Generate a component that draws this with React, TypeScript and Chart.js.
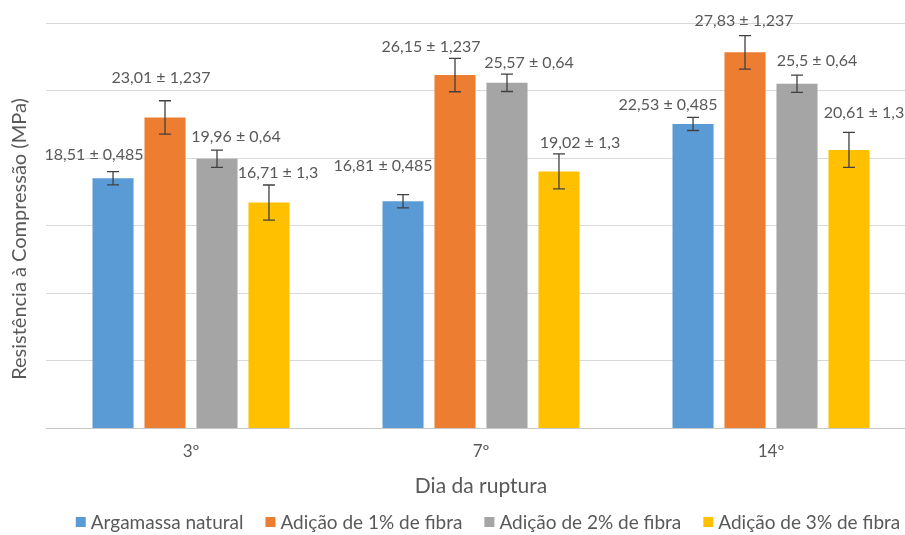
import React, { useEffect, useRef } from 'react';
import { Chart, registerables } from 'chart.js';

Chart.register(...registerables);

const categories = ['3º', '7º', '14º'];
const seriesNames = ['Argamassa natural', 'Adição de 1% de fibra', 'Adição de 2% de fibra', 'Adição de 3% de fibra'];
const argamassaNatural = [18.51, 16.81, 22.53];
const fibra1 = [23.01, 26.15, 27.83];
const fibra2 = [19.96, 25.57, 25.5];
const fibra3 = [16.71, 19.02, 20.61];
const errNatural = [0.485, 0.485, 0.485];
const errFibra1 = [1.237, 1.237, 1.237];
const errFibra2 = [0.64, 0.64, 0.64];
const errFibra3 = [1.3, 1.3, 1.3];
const yMin = 0;
const yMax = 30;
const yStep = 5;

const seriesValues = [argamassaNatural, fibra1, fibra2, fibra3];
const seriesErrors = [errNatural, errFibra1, errFibra2, errFibra3];
const seriesColors = ['#5B9BD5', '#ED7D31', '#A5A5A5', '#FFC000'];

// label offsets (px) relative to bar centre / error-bar top (layout only)
const labelOffsets = [
  [[-19, -17], [-20, -29], [-25, -13]],
  [[-4, -23], [-24, -11], [-1, -15]],
  [[19, -13], [22, -11], [20, -14]],
  [[9, -12], [21, -11], [15, -19]],
];

const FONT = 'Lato, "Noto Sans", sans-serif';
const TEXT = '#595959';

const fmt = (v: number) => String(v).replace('.', ',');

const errorBarPlugin = {
  id: 'errorBarsAndLabels',
  afterDatasetsDraw(chart: any) {
    const ctx = chart.ctx;
    const yScale = chart.scales.y;
    chart.data.datasets.forEach((ds: any, di: number) => {
      const meta = chart.getDatasetMeta(di);
      meta.data.forEach((bar: any, i: number) => {
        const v = ds.data[i];
        const e = seriesErrors[di][i];
        const x = bar.x;
        const yTop = yScale.getPixelForValue(v + e);
        const yBot = yScale.getPixelForValue(v - e);
        ctx.save();
        ctx.strokeStyle = '#404040';
        ctx.lineWidth = 1.3;
        ctx.beginPath();
        ctx.moveTo(x, yTop);
        ctx.lineTo(x, yBot);
        ctx.moveTo(x - 6, yTop);
        ctx.lineTo(x + 6, yTop);
        ctx.moveTo(x - 6, yBot);
        ctx.lineTo(x + 6, yBot);
        ctx.stroke();
        const [dx, dy] = labelOffsets[di][i];
        ctx.font = `16px ${FONT}`;
        ctx.fillStyle = TEXT;
        ctx.textAlign = 'center';
        ctx.textBaseline = 'middle';
        ctx.fillText(`${fmt(v)} ± ${fmt(e)}`, x + dx, yTop + dy);
        ctx.restore();
      });
    });
  },
  afterDraw(chart: any) {
    const ctx = chart.ctx;
    // y-axis title
    ctx.save();
    ctx.translate(20, 239);
    ctx.rotate(-Math.PI / 2);
    ctx.font = `20px ${FONT}`;
    ctx.fillStyle = TEXT;
    ctx.textAlign = 'center';
    ctx.textBaseline = 'middle';
    ctx.fillText('Resistência à Compressão (MPa)', 0, 0);
    ctx.restore();
    // legend
    ctx.save();
    ctx.font = `19px ${FONT}`;
    ctx.textBaseline = 'middle';
    ctx.textAlign = 'left';
    const box = 10;
    const gapBox = 5;
    const gapItem = 22;
    const widths = seriesNames.map((n) => ctx.measureText(n).width);
    const total = widths.reduce((a, w) => a + box + gapBox + w, 0) + gapItem * (seriesNames.length - 1);
    const cy = 522;
    let x = 488 - total / 2;
    seriesNames.forEach((n, i) => {
      ctx.fillStyle = seriesColors[i];
      ctx.fillRect(x, cy - box / 2, box, box);
      x += box + gapBox;
      ctx.fillStyle = TEXT;
      ctx.fillText(n, x, cy + 1);
      x += widths[i] + gapItem;
    });
    ctx.restore();
  },
};

export default function App() {
  const ref = useRef<HTMLCanvasElement>(null);
  useEffect(() => {
    if (!ref.current) return;
    const chart = new Chart(ref.current, {
      type: 'bar',
      data: {
        labels: categories,
        datasets: seriesNames.map((name, i) => ({
          label: name,
          data: seriesValues[i],
          backgroundColor: seriesColors[i],
          borderWidth: 0,
          categoryPercentage: 0.717,
          barPercentage: 0.79,
        })),
      },
      options: {
        animation: false,
        responsive: false,
        maintainAspectRatio: false,
        layout: { padding: { left: 46, right: 60, top: 23, bottom: 36 } },
        plugins: {
          tooltip: { enabled: false },
          legend: { display: false },
        },
        scales: {
          x: {
            grid: { display: false, drawTicks: false },
            border: { display: true, color: '#c8c8c8', width: 1 },
            ticks: { color: TEXT, font: { family: FONT, size: 17 }, padding: 13 },
            title: {
              display: true,
              text: 'Dia da ruptura',
              color: TEXT,
              font: { family: FONT, size: 21 },
              padding: { top: -1, bottom: 0 },
            },
          },
          y: {
            min: yMin,
            max: yMax,
            ticks: { display: false, stepSize: yStep },
            grid: { color: '#d9d9d9', drawTicks: false, lineWidth: 1 },
            border: { display: false },
          },
        },
      },
      plugins: [errorBarPlugin],
    });
    return () => chart.destroy();
  }, []);
  return (
    <div style={{ position: 'fixed', left: 0, top: 0, width: 905, height: 535, overflow: 'hidden', background: '#fff' }}>
      <canvas ref={ref} width={976} height={535} style={{ width: 976, height: 535, display: 'block' }} />
    </div>
  );
}
